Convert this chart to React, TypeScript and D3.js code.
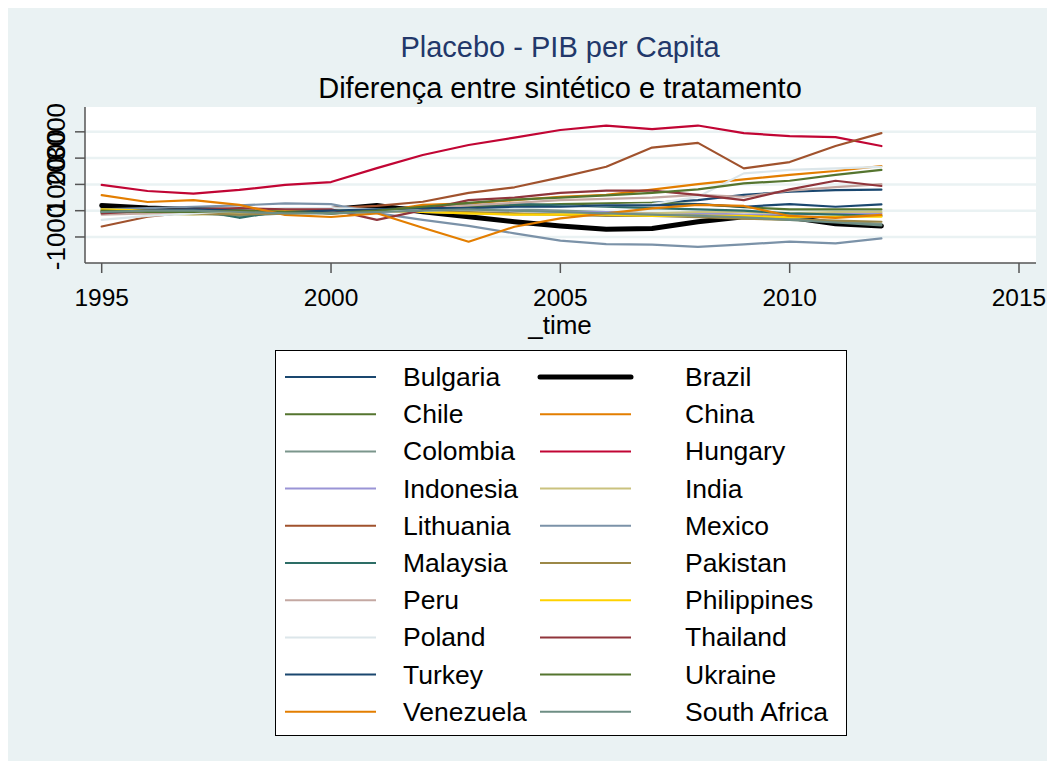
import { useRef, useEffect } from 'react';
import * as d3 from 'd3';

const years = d3.range(1995, 2013);

const countries = [
  'Bulgaria', 'Brazil', 'Chile', 'China', 'Colombia', 'Hungary', 'Indonesia', 'India', 'Lithuania', 'Mexico',
  'Malaysia', 'Pakistan', 'Peru', 'Philippines', 'Poland', 'Thailand', 'Turkey', 'Ukraine', 'Venezuela', 'South Africa',
];

const colors = [
  '#1a476f', '#000000', '#55752f', '#e37e00', '#7b968c', '#c10534', '#9a94d6', '#cac27e', '#a0522d', '#7b92a8',
  '#2d6d66', '#9c8847', '#c4a8a2', '#ffd200', '#dce6ea', '#90353b', '#1a476f', '#55752f', '#e37e00', '#6e8e84',
];

const bulgaria = [100, 50, 0, -50, 0, 50, 100, 150, 200, 250, 200, 250, 300, 400, 600, 720, 780, 800];
const brazil = [200, 100, 50, 0, 0, 50, 200, -40, -230, -420, -580, -710, -680, -420, -230, -250, -500, -580];
const chile = [-50, 0, -50, -100, -50, 0, 50, 100, 150, 200, 250, 280, 300, 250, 130, 50, 50, 50];
const china = [0, -50, 0, 50, 0, -100, -50, 220, 280, 400, 530, 600, 800, 1010, 1190, 1360, 1510, 1700];
const colombia = [-100, -50, -100, -200, -100, -50, 0, 50, 100, 50, 0, -50, -100, -150, -250, -300, -400, -500];
const hungary = [980, 750, 650, 790, 980, 1090, 1620, 2120, 2500, 2780, 3070, 3240, 3100, 3240, 2950, 2840, 2800, 2460];
const indonesia = [0, -50, -100, -50, 0, -50, -50, 0, 50, 0, -50, -50, -100, -100, -150, -150, -100, -100];
const india = [-50, -100, -150, -100, -50, 0, 0, -50, -100, -150, -150, -100, -100, -50, -50, -100, -50, -50];
const lithuania = [-600, -230, -50, 0, 50, 100, 180, 340, 680, 890, 1270, 1670, 2400, 2580, 1610, 1850, 2460, 2950];
const mexico = [50, 100, 150, 200, 280, 250, -90, -350, -580, -860, -1140, -1270, -1290, -1380, -1280, -1180, -1240, -1050];
const malaysia = [-50, 0, 50, -270, 0, -100, 0, 100, 200, 250, 200, 150, 100, 50, 0, -100, -150, -200];
const pakistan = [0, -50, -100, -150, -100, -50, 0, 0, -50, -100, -150, -200, -200, -250, -300, -350, -380, -420];
const peru = [-150, -100, -50, 0, 50, 0, 0, 100, 200, 300, 400, 450, 500, 600, 530, 760, 900, 1010];
const philippines = [50, 0, -50, -50, 0, 50, 0, -50, -100, -150, -150, -150, -200, -200, -200, -250, -230, -230];
const poland = [-350, -200, -100, 0, 100, 100, 50, 0, 50, 100, 150, 200, 250, 530, 1420, 1550, 1610, 1670];
const thailand = [-100, 0, 50, 100, 50, 50, -350, 20, 400, 500, 680, 760, 760, 600, 400, 810, 1140, 940];
const turkey = [-50, 0, 50, 0, -50, 0, 50, 100, 100, 150, 150, 200, 200, 250, 150, 250, 150, 240];
const ukraine = [0, -50, -50, 0, -50, -100, 0, 150, 300, 420, 500, 580, 680, 810, 1040, 1140, 1360, 1550];
const venezuela = [590, 330, 400, 220, -160, -240, -100, -650, -1180, -610, -290, -100, 90, 220, 180, -200, -270, -160];
const southAfrica = [-50, 0, 0, -50, -100, -100, -50, 0, 50, 0, -50, -100, -150, -200, -250, -350, -450, -560];

const values = [
  bulgaria, brazil, chile, china, colombia, hungary, indonesia, india, lithuania, mexico,
  malaysia, pakistan, peru, philippines, poland, thailand, turkey, ukraine, venezuela, southAfrica,
];

const xTicks = [1995, 2000, 2005, 2010, 2015];
const yTicks = [-1000, 0, 1000, 2000, 3000];

const W = 1055;
const H = 769;
const FONT = '"Liberation Sans", Arial, sans-serif';

export default function App() {
  const svgRef = useRef<SVGSVGElement>(null);

  useEffect(() => {
    const svg = d3.select(svgRef.current);
    svg.selectAll('*').remove();

    const left = 85, right = 1036, top = 107, bottom = 263;
    const x = d3.scaleLinear().domain([1995, 2015]).range([101.7, 1019]);
    const y = d3.scaleLinear().domain([-1990, 3945]).range([bottom, top]);

    svg.append('rect').attr('width', W).attr('height', H).attr('fill', '#eaf2f3');
    svg.append('rect').attr('x', left).attr('y', top).attr('width', right - left).attr('height', bottom - top).attr('fill', '#ffffff');

    // gridlines
    yTicks.forEach((t) => {
      svg.append('line').attr('x1', left).attr('x2', right).attr('y1', y(t)).attr('y2', y(t))
        .attr('stroke', '#eaf2f3').attr('stroke-width', 2.5);
    });

    // titles
    svg.append('text').attr('x', 560).attr('y', 57).attr('text-anchor', 'middle')
      .attr('font-family', FONT).attr('font-size', '29px').attr('fill', '#22386a')
      .text('Placebo - PIB per Capita');
    svg.append('text').attr('x', 560).attr('y', 98).attr('text-anchor', 'middle')
      .attr('font-family', FONT).attr('font-size', '29px').attr('fill', '#000000')
      .text('Diferença entre sintético e tratamento');

    // lines
    const line = d3.line<number>().x((_, i) => x(years[i])).y((d) => y(d));
    values.forEach((vals, i) => {
      svg.append('path').attr('d', line(vals) as string).attr('fill', 'none')
        .attr('stroke', colors[i]).attr('stroke-width', countries[i] === 'Brazil' ? 5 : 2.2)
        .attr('stroke-linejoin', 'round').attr('stroke-linecap', 'round');
    });

    // axes
    svg.append('line').attr('x1', left).attr('x2', left).attr('y1', top).attr('y2', bottom)
      .attr('stroke', '#555555').attr('stroke-width', 1.5);
    svg.append('line').attr('x1', left).attr('x2', right).attr('y1', bottom).attr('y2', bottom)
      .attr('stroke', '#555555').attr('stroke-width', 1.5);

    yTicks.forEach((t) => {
      svg.append('line').attr('x1', left - 10).attr('x2', left).attr('y1', y(t)).attr('y2', y(t))
        .attr('stroke', '#555555').attr('stroke-width', 1.5);
      svg.append('text').attr('transform', `translate(65,${y(t)}) rotate(-90)`)
        .attr('text-anchor', 'middle').attr('font-family', FONT).attr('font-size', '26px').attr('fill', '#000')
        .text(String(t));
    });

    xTicks.forEach((t) => {
      svg.append('line').attr('x1', x(t)).attr('x2', x(t)).attr('y1', bottom).attr('y2', bottom + 10)
        .attr('stroke', '#555555').attr('stroke-width', 1.5);
      svg.append('text').attr('x', x(t)).attr('y', 306).attr('text-anchor', 'middle')
        .attr('font-family', FONT).attr('font-size', '24.5px').attr('fill', '#000')
        .text(String(t));
    });
    svg.append('text').attr('x', 560).attr('y', 334).attr('text-anchor', 'middle')
      .attr('font-family', FONT).attr('font-size', '26px').attr('fill', '#000').text('_time');

    // legend
    const lg = svg.append('g');
    lg.append('rect').attr('x', 275.5).attr('y', 350.5).attr('width', 571).attr('height', 385)
      .attr('fill', '#ffffff').attr('stroke', '#000000').attr('stroke-width', 1);
    countries.forEach((c, i) => {
      const col = i % 2, row = Math.floor(i / 2);
      const cy = 377 + row * 37.2;
      const lx = col === 0 ? 285 : 540;
      const tx = col === 0 ? 403 : 685;
      lg.append('line').attr('x1', lx).attr('x2', lx + 91).attr('y1', cy).attr('y2', cy)
        .attr('stroke', colors[i]).attr('stroke-width', c === 'Brazil' ? 5 : 2).attr('stroke-linecap', c === 'Brazil' ? 'round' : 'butt');
      lg.append('text').attr('x', tx).attr('y', cy + 9).attr('font-family', FONT).attr('font-size', '26.5px')
        .attr('fill', '#000').text(c);
    });
  }, []);

  return (
    <svg ref={svgRef} width={W} height={H} viewBox={`0 0 ${W} ${H}`} style={{ display: 'block', margin: '-8px' }} />
  );
}
